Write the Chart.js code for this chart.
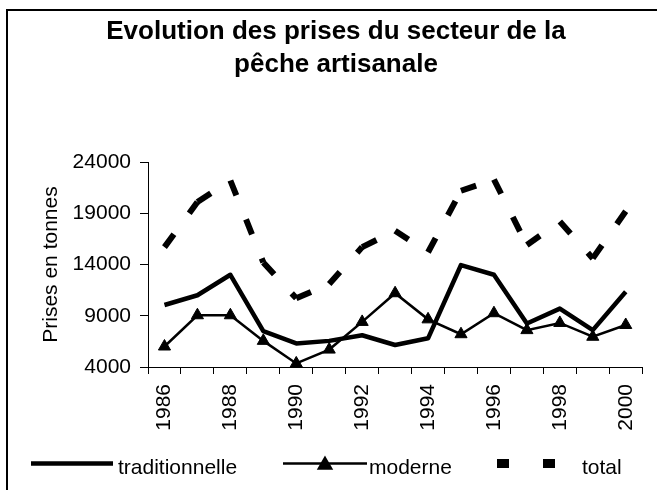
<!DOCTYPE html>
<html>
<head>
<meta charset="utf-8">
<script src="https://cdn.jsdelivr.net/npm/chart.js@4.4.1/dist/chart.umd.min.js"></script>
<style>
html,body{margin:0;padding:0;background:#fff;}
#wrap{width:657px;height:490px;position:relative;}
</style>
</head>
<body>
<div id="wrap"><canvas id="c" width="657" height="490"></canvas></div>
<script>
const years = ['1986','1987','1988','1989','1990','1991','1992','1993','1994','1995','1996','1997','1998','1999','2000'];
const shownYears = ['1986','1988','1990','1992','1994','1996','1998','2000'];
const traditionnelle = [10050, 11000, 13000, 7500, 6300, 6550, 7100, 6150, 6800, 13950, 13000, 8250, 9700, 7600, 11350];
const moderne = [6000, 9050, 9050, 6550, 4350, 5700, 8400, 11200, 8650, 7200, 9250, 7600, 8300, 6950, 8100];
const total = [15700, 20100, 22200, 14200, 10700, 12100, 15700, 17300, 15200, 21200, 22300, 15900, 18200, 14600, 19200];
const seriesNames = ['traditionnelle', 'moderne', 'total'];
const titleLines = ['Evolution des prises du secteur de la', 'pêche artisanale'];
const yAxisTitle = 'Prises en tonnes';
const yTicks = [4000, 9000, 14000, 19000, 24000];

const FONT = 'Liberation Sans, Arial, Helvetica, sans-serif';
Chart.defaults.font.family = FONT;
Chart.defaults.color = '#000';

const framePlugin = {
  id: 'frame',
  beforeDraw(chart) {
    const ctx = chart.ctx;
    ctx.save();
    ctx.fillStyle = '#fff';
    ctx.fillRect(0, 0, chart.width, chart.height);
    ctx.strokeStyle = '#000';
    ctx.lineWidth = 2;
    ctx.beginPath();
    ctx.moveTo(7, chart.height);
    ctx.lineTo(7, 10);
    ctx.lineTo(chart.width, 10);
    ctx.stroke();
    ctx.restore();
  }
};

const legendPlugin = {
  id: 'excelLegend',
  afterDraw(chart) {
    const ctx = chart.ctx;
    const lineY = 463.5, baseY = 474;
    const geom = [
      {x0: 31, x1: 113, tx: 118},
      {x0: 283, x1: 367, tx: 369, mx: 325},
      {x0: 497, x1: 579, tx: 582}
    ];
    ctx.save();
    chart.data.datasets.forEach((ds, i) => {
      const g = geom[i];
      ctx.strokeStyle = '#000';
      ctx.lineCap = 'butt';
      if (i === 2) {
        ctx.lineWidth = 9;
        ctx.setLineDash([12, 34]);
      } else {
        ctx.lineWidth = i === 0 ? 4.5 : 2.5;
        ctx.setLineDash([]);
      }
      ctx.beginPath();
      ctx.moveTo(g.x0, lineY);
      ctx.lineTo(g.x1, lineY);
      ctx.stroke();
      ctx.setLineDash([]);
      if (g.mx) {
        ctx.fillStyle = '#000';
        Chart.helpers.drawPoint(ctx, {pointStyle: 'triangle', radius: 7, borderWidth: 1, rotation: 0}, g.mx, lineY + 1.5);
        ctx.fill();
      }
      ctx.fillStyle = '#000';
      ctx.font = '21px ' + FONT;
      ctx.textAlign = 'left';
      ctx.textBaseline = 'alphabetic';
      ctx.fillText(ds.label, g.tx, baseY);
    });
    ctx.restore();
  }
};

new Chart(document.getElementById('c'), {
  type: 'line',
  data: {
    labels: years,
    datasets: [
      {
        label: seriesNames[0], data: traditionnelle,
        borderColor: '#000', borderWidth: 4.5, pointRadius: 0,
        borderJoinStyle: 'round', tension: 0, fill: false
      },
      {
        label: seriesNames[1], data: moderne,
        borderColor: '#000', borderWidth: 2.5,
        pointStyle: 'triangle', pointRadius: 7,
        pointBackgroundColor: '#000', pointBorderColor: '#000', pointBorderWidth: 1,
        tension: 0, fill: false
      },
      {
        label: seriesNames[2], data: total,
        borderColor: '#000', borderWidth: 6, borderDash: [16, 26], borderCapStyle: 'butt',
        pointRadius: 0, tension: 0, fill: false,
        segment: { borderDashOffset: c => (c.p0DataIndex % 2) * 0.01 }
      }
    ]
  },
  options: {
    responsive: false,
    animation: false,
    devicePixelRatio: 1,
    layout: { padding: { left: 23, right: 8, top: 0, bottom: 0 } },
    plugins: {
      legend: { display: false },
      tooltip: { enabled: false },
      title: {
        display: true,
        text: titleLines,
        color: '#000',
        font: { family: FONT, size: 26, weight: 'bold', lineHeight: 1.255 },
        padding: { top: 16, bottom: 80.8 }
      }
    },
    scales: {
      x: {
        type: 'category',
        offset: true,
        grid: { offset: true, drawOnChartArea: false, drawTicks: true, tickLength: 7, color: '#000', lineWidth: 1 },
        border: { display: true, color: '#000', width: 1 },
        ticks: {
          autoSkip: false, minRotation: 90, maxRotation: 90, padding: 10,
          color: '#000', font: { family: FONT, size: 21, lineHeight: 1 },
          callback: function(v, i) { const l = years[i]; return shownYears.includes(l) ? l : ''; }
        },
        afterFit: s => { s.height = 123; }
      },
      y: {
        min: 4000, max: 24000,
        grid: { drawOnChartArea: false, drawTicks: true, tickLength: 8, color: '#000', lineWidth: 1 },
        border: { display: true, color: '#000', width: 1 },
        ticks: { padding: 9, color: '#000', font: { family: FONT, size: 21 }, callback: v => String(v) },
        afterBuildTicks: s => { s.ticks = yTicks.map(v => ({ value: v })); },
        title: { display: true, text: yAxisTitle, color: '#000', font: { family: FONT, size: 21 }, padding: { top: 16, bottom: 0 } },
        afterFit: s => { s.width = 125; }
      }
    }
  },
  plugins: [framePlugin, legendPlugin]
});
</script>
</body>
</html>
